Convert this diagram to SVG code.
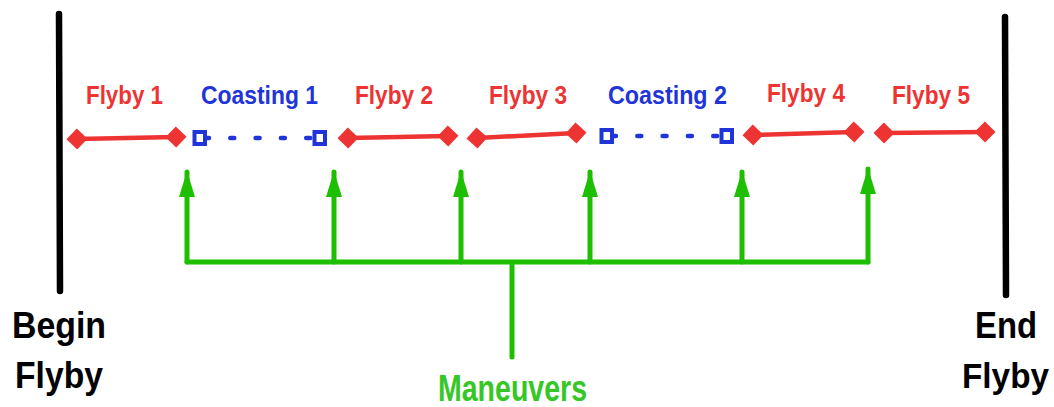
<svg xmlns="http://www.w3.org/2000/svg" width="1054" height="407" viewBox="0 0 1054 407">
<style>
  text { font-family: "Liberation Sans", Arial, sans-serif; font-weight: bold; }
  .red { fill: #ee3333; font-size: 26px; }
  .blue { fill: #1f35d8; font-size: 26px; }
  .big { fill: #000; font-size: 37px; }
  .man { fill: #35c726; font-size: 36px; }
  .fly { stroke: #ee3333; stroke-width: 4.5; fill: none; }
  .coast { stroke: #1f35d8; stroke-width: 4.5; stroke-linecap: round; stroke-dasharray: 4 21.3; fill: none; }
  .sq { fill: #fff; stroke: #1f35d8; stroke-width: 4; }
  .bar { stroke: #000; stroke-width: 6.5; stroke-linecap: round; }
  .green { stroke: #1ebe00; stroke-width: 5; fill: none; stroke-linecap: round; }
</style>
<defs>
  <marker id="dia" markerUnits="userSpaceOnUse" markerWidth="22" markerHeight="22" refX="11" refY="11" orient="auto" viewBox="0 0 22 22">
    <path d="M0.5,11 L11,0.5 L21.5,11 L11,21.5 Z" fill="#ee3333"/>
  </marker>
  <marker id="arr" markerUnits="userSpaceOnUse" markerWidth="18" markerHeight="28" refX="9" refY="1" orient="0" viewBox="0 0 18 28">
    <path d="M9,0 L17,26 L1,26 Z" fill="#1ebe00"/>
  </marker>
</defs>

<g id="begin">
  <line class="bar" x1="59" y1="14" x2="60" y2="291"/>
  <text class="big" x="12" y="338" textLength="94" lengthAdjust="spacingAndGlyphs">Begin</text>
  <text class="big" x="15" y="388" textLength="88" lengthAdjust="spacingAndGlyphs">Flyby</text>
</g>
<g id="end">
  <line class="bar" x1="1005" y1="17" x2="1006" y2="295"/>
  <text class="big" x="975" y="338" textLength="62" lengthAdjust="spacingAndGlyphs">End</text>
  <text class="big" x="962" y="388" style="font-size:34.5px" textLength="87" lengthAdjust="spacingAndGlyphs">Flyby</text>
</g>

<g id="flyby1">
  <line class="fly" x1="77" y1="139" x2="176" y2="137" marker-start="url(#dia)" marker-end="url(#dia)"/>
  <text class="red" x="86" y="104" textLength="77" lengthAdjust="spacingAndGlyphs">Flyby 1</text>
</g>
<g id="coasting1">
  <line class="coast" x1="205" y1="138" x2="315" y2="138"/>
  <rect class="sq" x="194.5" y="132" width="10.5" height="12"/>
  <rect class="sq" x="314.5" y="132" width="10.5" height="12"/>
  <text class="blue" x="201" y="104" textLength="117" lengthAdjust="spacingAndGlyphs">Coasting 1</text>
</g>
<g id="flyby2">
  <line class="fly" x1="348" y1="138" x2="448" y2="136" marker-start="url(#dia)" marker-end="url(#dia)"/>
  <text class="red" x="355" y="104" textLength="78" lengthAdjust="spacingAndGlyphs">Flyby 2</text>
</g>
<g id="flyby3">
  <line class="fly" x1="477" y1="138" x2="576" y2="133" marker-start="url(#dia)" marker-end="url(#dia)"/>
  <text class="red" x="489" y="104" textLength="78" lengthAdjust="spacingAndGlyphs">Flyby 3</text>
</g>
<g id="coasting2">
  <line class="coast" x1="612" y1="136" x2="722" y2="136"/>
  <rect class="sq" x="601.5" y="130" width="10.5" height="12"/>
  <rect class="sq" x="721.5" y="130" width="10.5" height="12"/>
  <text class="blue" x="608" y="104" textLength="119" lengthAdjust="spacingAndGlyphs">Coasting 2</text>
</g>
<g id="flyby4">
  <line class="fly" x1="753" y1="135" x2="854" y2="132" marker-start="url(#dia)" marker-end="url(#dia)"/>
  <text class="red" x="767" y="102" textLength="78" lengthAdjust="spacingAndGlyphs">Flyby 4</text>
</g>
<g id="flyby5">
  <line class="fly" x1="884" y1="133" x2="985" y2="132" marker-start="url(#dia)" marker-end="url(#dia)"/>
  <text class="red" x="892" y="104" textLength="78" lengthAdjust="spacingAndGlyphs">Flyby 5</text>
</g>

<g id="maneuvers">
  <text class="man" x="438" y="401" textLength="149" lengthAdjust="spacingAndGlyphs">Maneuvers</text>
</g>

<g id="connectors">
  <path class="green" d="M187,262 H868 M512,262 V357"/>
  <line class="green" x1="187" y1="262" x2="187" y2="172" marker-end="url(#arr)"/>
  <line class="green" x1="334" y1="262" x2="334" y2="172" marker-end="url(#arr)"/>
  <line class="green" x1="461" y1="262" x2="461" y2="172" marker-end="url(#arr)"/>
  <line class="green" x1="590" y1="262" x2="590" y2="172" marker-end="url(#arr)"/>
  <line class="green" x1="742" y1="262" x2="742" y2="172" marker-end="url(#arr)"/>
  <line class="green" x1="868" y1="262" x2="868" y2="169" marker-end="url(#arr)"/>
</g>
</svg>
